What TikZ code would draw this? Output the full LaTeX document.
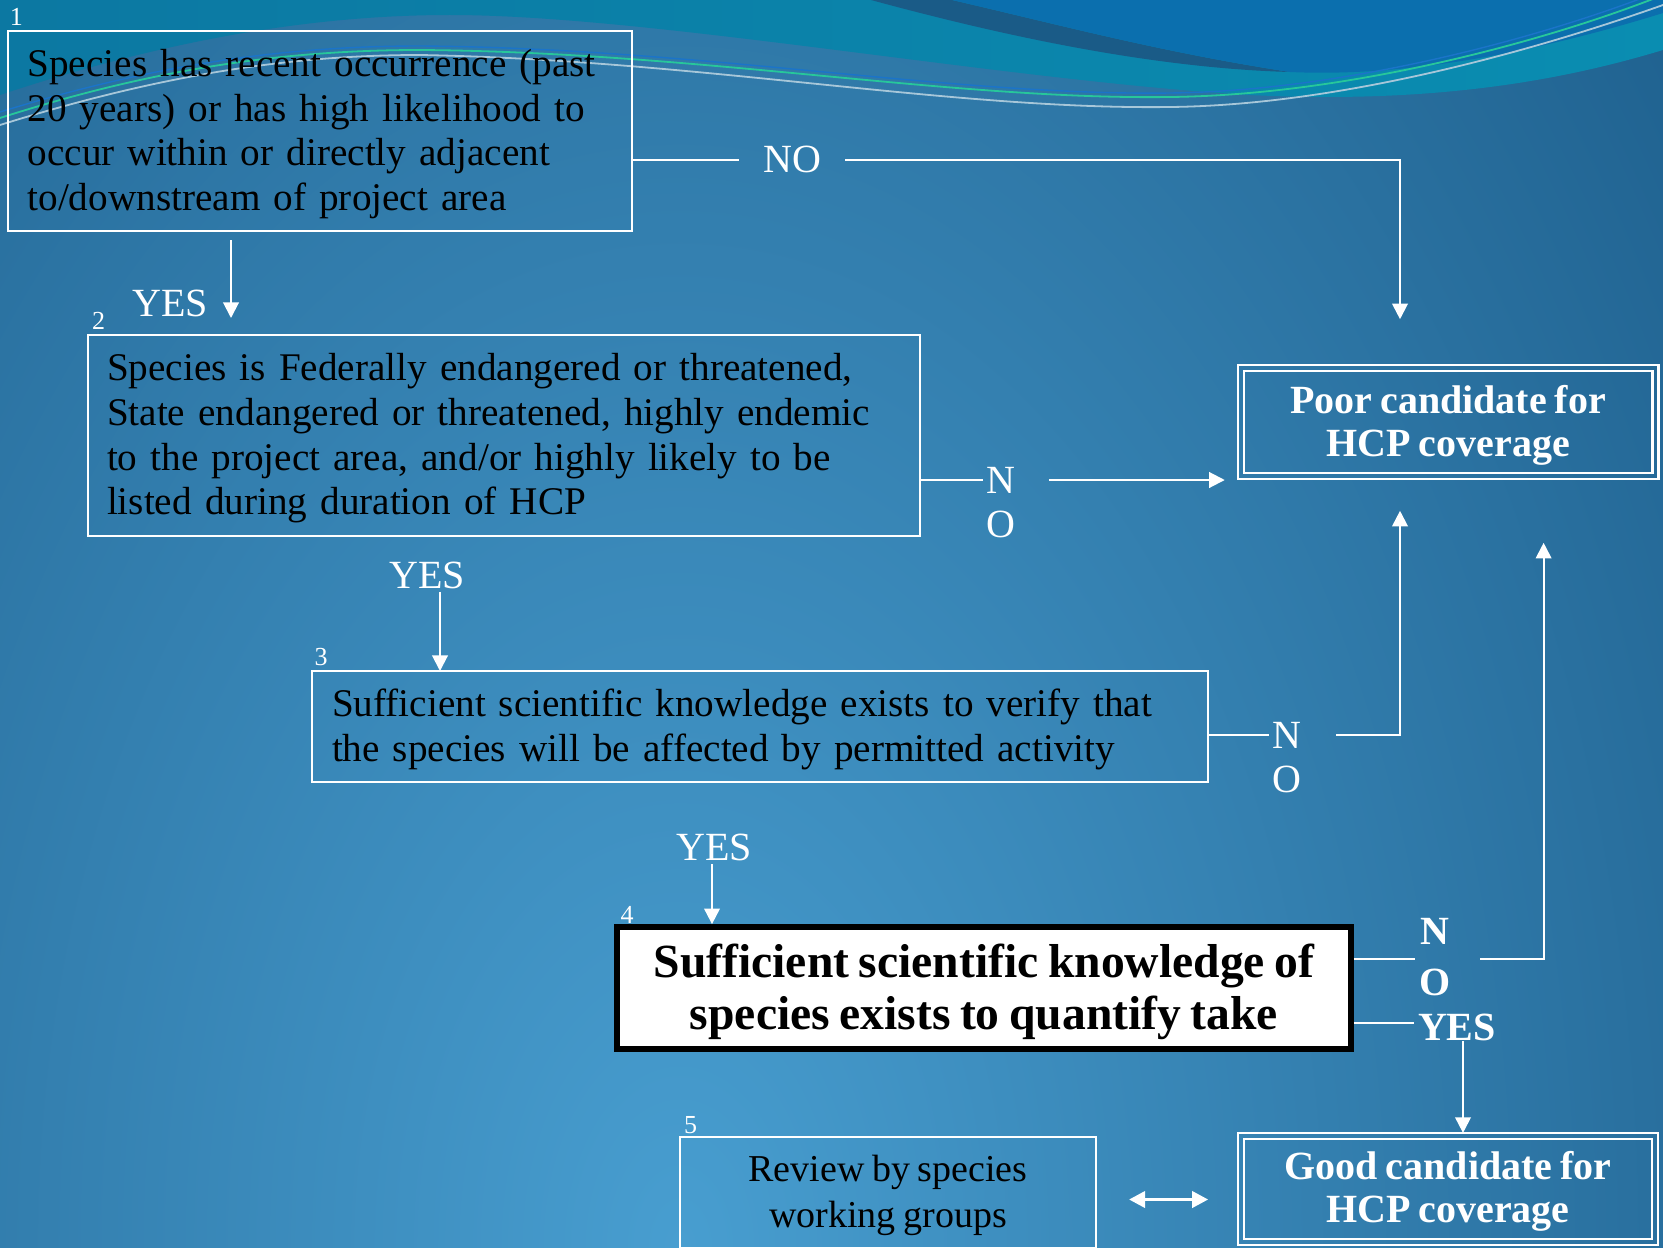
\documentclass[tikz,border=0pt]{standalone}
\usepackage{fontspec}
\setmainfont{Liberation Serif}[WordSpace=0.8]
\usetikzlibrary{arrows.meta,calc}

\definecolor{bglight}{HTML}{489ED0}
\definecolor{bgdark}{HTML}{15527F}
\definecolor{tealL}{HTML}{0C78A2}
\definecolor{tealR}{HTML}{0A8DB1}
\definecolor{wavedark}{HTML}{1A5B87}
\definecolor{waveblue}{HTML}{0B6FAE}
\definecolor{linegreen}{HTML}{27C79B}
\definecolor{linegrey}{HTML}{A7C7D9}
\definecolor{lineblue}{HTML}{1B74C9}

% raises the first line's height so the text block sits a little lower
\newcommand{\toplift}{\rule{0pt}{0.85em}}

\tikzset{
  box/.style={draw=white, line width=1pt, outer sep=0pt, inner ysep=0pt,
    align=left, text=black, font=\fontsize{19.6}{22.35}\selectfont},
  keybox/.style={draw=black, fill=white, line width=2.75pt, inner sep=0pt,
    align=center, text=black, font=\bfseries\fontsize{23.8}{26}\selectfont},
  endbox/.style={draw=white, line width=1.25pt, outer sep=0pt, inner sep=0pt,
    align=center, text=white, font=\bfseries\fontsize{20}{21.5}\selectfont},
  revbox/.style={draw=white, line width=1pt, outer sep=0pt, inner sep=0pt,
    align=center, text=black, font=\fontsize{19}{22.8}\selectfont},
  lbl/.style={text=white, inner sep=0pt, font=\fontsize{20}{24}\selectfont},
  blbl/.style={text=white, inner sep=0pt, font=\bfseries\fontsize{20}{24}\selectfont},
  num/.style={text=white, inner sep=0pt, font=\fontsize{13}{15}\selectfont},
  conn/.style={draw=white, line width=1pt},
  arr/.style={conn, -{Triangle[length=7.8pt,width=7.8pt]}},
  dblarr/.style={draw=white, line width=1.8pt,
    {Triangle[length=8pt,width=8pt]}-{Triangle[length=8pt,width=8pt]}},
}

\begin{document}
\begin{tikzpicture}[x=0.5pt,y=-0.5pt]
\useasboundingbox (0,0) rectangle (1663,1247);
\clip (0,0) rectangle (1663,1247);

% background gradient
\fill[bgdark] (0,0) rectangle (1663,1247);
\shade[inner color=bglight, outer color=bgdark] (680,1247) ellipse [x radius=800pt, y radius=1250pt];

% wave band along the top
\shade[left color=tealL, right color=tealR]
  (0,0) -- (1663,0) -- (1663,50)
  .. controls (1580,75) and (1450,105) .. (1250,95)
  .. controls (1000,80) and (650,15) .. (450,15)
  .. controls (300,15) and (150,45) .. (0,95) -- cycle;
\fill[wavedark] (871,0) .. controls (1000,35) and (1150,68) .. (1290,72)
  .. controls (1160,52) and (1060,25) .. (952,0) -- cycle;
\fill[waveblue] (952,0) .. controls (1060,25) and (1160,52) .. (1290,72)
  .. controls (1420,78) and (1560,45) .. (1663,13) -- (1663,0) -- cycle;
\draw[linegrey, line width=0.9pt] (0,125) .. controls (160,75) and (290,55) .. (420,55)
  .. controls (700,60) and (950,110) .. (1170,107) .. controls (1350,105) and (1550,45) .. (1663,5);
\draw[lineblue, line width=0.7pt] (0,112) .. controls (150,66) and (280,46) .. (420,46)
  .. controls (700,48) and (950,96) .. (1170,93) .. controls (1350,91) and (1550,35) .. (1663,-10);
\draw[linegreen, line width=0.9pt] (0,118) .. controls (150,70) and (280,50) .. (420,50)
  .. controls (700,52) and (950,100) .. (1170,97) .. controls (1350,95) and (1550,40) .. (1663,-5);

% decision boxes
\node[box, minimum width=312.2pt, minimum height=100pt, text width=292.2pt, inner xsep=10pt]
  (b1) at (319.8,131) {\toplift Species has recent occurrence (past\\ 20 years) or has high likelihood to\\ occur within or directly adjacent\\ to/downstream of project area};
\node[box, minimum width=415.75pt, minimum height=100.3pt, text width=396.75pt, inner xsep=9.5pt]
  (b2) at (503.75,435.3) {\toplift Species is Federally endangered or threatened,\\ State endangered or threatened, highly endemic\\ to the project area, and/or highly likely to be\\ listed during duration of HCP};
\node[box, minimum width=448pt, minimum height=55.5pt, text width=428pt, inner xsep=10pt]
  (b3) at (760,726.5) {\toplift Sufficient scientific knowledge exists to verify that\\ the species will be affected by permitted activity};
\node[keybox, minimum width=367pt, minimum height=61.15pt]
  (b4) at (984,988) {\toplift Sufficient scientific knowledge of\\ species exists to quantify take};
\node[revbox, minimum width=208pt, minimum height=55.5pt]
  (rev) at (888,1192.5) {\toplift Review by species\\ working groups};

% outcome boxes with double frame
\node[endbox, minimum width=210.25pt, minimum height=56.8pt]
  (poor) at (1448,422) {\toplift Poor candidate for\\ HCP coverage};
\draw[white, line width=1.25pt] ($(poor.north west)+(6,6)$) rectangle ($(poor.south east)+(-6,-6)$);
\node[endbox, minimum width=209.8pt, minimum height=55.95pt]
  (good) at (1448,1188.85) {\toplift Good candidate for\\ HCP coverage};
\draw[white, line width=1.25pt] ($(good.north west)+(6,6)$) rectangle ($(good.south east)+(-6,-6)$);

% step numbers
\node[num] (k1) at (16.5,17) {1};
\node[num] (k2) at (98.5,321) {2};
\node[num] (k3) at (321,657.5) {3};
\node[num] (k4) at (627,915) {4};
\node[num] (k5) at (690.5,1125) {5};

% answer labels
\node[lbl] (yes1) at (170,303) {YES};
\node[lbl] (no1) at (792,159.5) {NO};
\node[lbl] (n2) at (1001,480) {N};
\node[lbl] (o2) at (1001,524) {O};
\node[lbl] (yes2) at (427,575) {YES};
\node[lbl] (n3) at (1287,735) {N};
\node[lbl] (o3) at (1287,779) {O};
\node[lbl] (yes3) at (714,847.5) {YES};
\node[blbl] (n4) at (1435,931) {N};
\node[blbl] (o4) at (1435,982) {O};
\node[blbl] (yes4) at (1457,1027) {YES};

% step 1
\draw[conn] (b1.east |- no1) -- ($(no1.west)+(-24,0)$);
\draw[arr] ($(no1.east)+(24,0)$) -| ($(poor.north)+(-48,-46)$);
\coordinate (t1) at ($(b1.south west)+(223.4,9)$);
\draw[arr] (t1) -- ($(t1 |- b2.north)+(0,-17)$);

% step 2
\draw[conn] (b2.east |- n2) -- ($(n2.west)+(-3,0)$);
\draw[arr] ($(n2.east)+(33,0)$) -- ($(poor.west |- n2)+(-13,0)$);
\coordinate (t2) at ($(yes2.south)+(13,3)$);
\draw[arr] (t2) -- (t2 |- b3.north);

% step 3
\draw[conn] (b3.east |- n3) -- ($(n3.west)+(-3,0)$);
\draw[arr] ($(n3.east)+(34.5,0)$) -| ($(poor.south)+(-48,32)$);
\coordinate (t3) at ($(yes3.south)+(-2,3)$);
\draw[arr] (t3) -- (t3 |- b4.north);

% step 4
\draw[conn] ($(b4.east)+(0,-29)$) -- ($(n4.west |- b4.east)+(-5,-29)$);
\draw[arr] ($(n4.east |- b4.east)+(30.6,-29)$) -| ($(poor.south)+(95.6,64)$);
\draw[conn] ($(b4.east)+(0,35)$) -- ($(yes4.west |- b4.east)+(-4,35)$);
\coordinate (t4) at ($(yes4.south)+(6,0)$);
\draw[arr] (t4) -- (t4 |- good.north);

% step 5
\draw[dblarr] ($(rev.east)+(33,7)$) -- ($(rev.east -| good.west)+(-30,7)$);
\end{tikzpicture}
\end{document}
